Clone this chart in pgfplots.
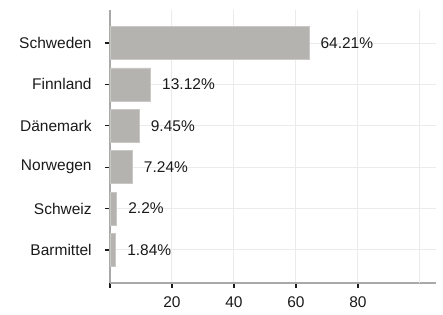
\documentclass[border=0pt]{standalone}
\usepackage{pgfplots}
\pgfplotsset{compat=1.18}
\usepackage{fontspec}
\setmainfont{Liberation Sans}
\definecolor{barc}{HTML}{B4B3AF}
\definecolor{bare}{HTML}{C9C8C4}
\definecolor{gridc}{HTML}{EBEBEB}
\definecolor{axc}{HTML}{A9A9A9}
\definecolor{txt}{HTML}{1A1A1A}
\begin{document}
\fontsize{15.5}{18}\selectfont
\begin{tikzpicture}
\begin{axis}[
  scale only axis,
  width=326pt, height=273pt,
  xmin=0, xmax=105.2,
  ymin=-0.8, ymax=5.8,
  axis lines=left,
  axis line style={draw=axc, line width=1.3pt, -},
  xtick={0,20,40,60,80},
  xticklabels={,20,40,60,80},
  extra x ticks={100},
  extra x tick labels={},
  extra x tick style={major tick length=0pt, grid=major},
  ytick={0,1,2,3,4,5},
  yticklabels={Barmittel,Schweiz,Norwegen,Dänemark,Finnland,Schweden},
  tick align=outside,
  major tick length=5pt,
  tick style={draw=txt, line width=1.2pt},
  xmajorgrids, ymajorgrids,
  major grid style={draw=gridc, line width=1pt},
  tick label style={font=\fontsize{15.5}{18}\selectfont, text=txt},
  /pgf/number format/assume math mode=true,
  xticklabel style={yshift=-3pt},
  yticklabel style={xshift=-8pt},
  clip=false,
]
\addplot[xbar, bar width=33pt, fill=barc, draw=bare, line width=0.8pt,
  point meta=explicit symbolic,
  nodes near coords,
  every node near coord/.style={anchor=west, xshift=6pt, text=txt, font=\fontsize{15.5}{18}\selectfont},
] coordinates {
  (64.21,5) [64.21\%]
  (13.12,4) [13.12\%]
  (9.45,3) [9.45\%]
  (7.24,2) [7.24\%]
  (2.2,1) [2.2\%]
  (1.84,0) [1.84\%]
};
\end{axis}
\path ([xshift=-110pt,yshift=-32pt]current axis.south west) rectangle ([xshift=7pt,yshift=10pt]current axis.north east);
\end{tikzpicture}
\end{document}
